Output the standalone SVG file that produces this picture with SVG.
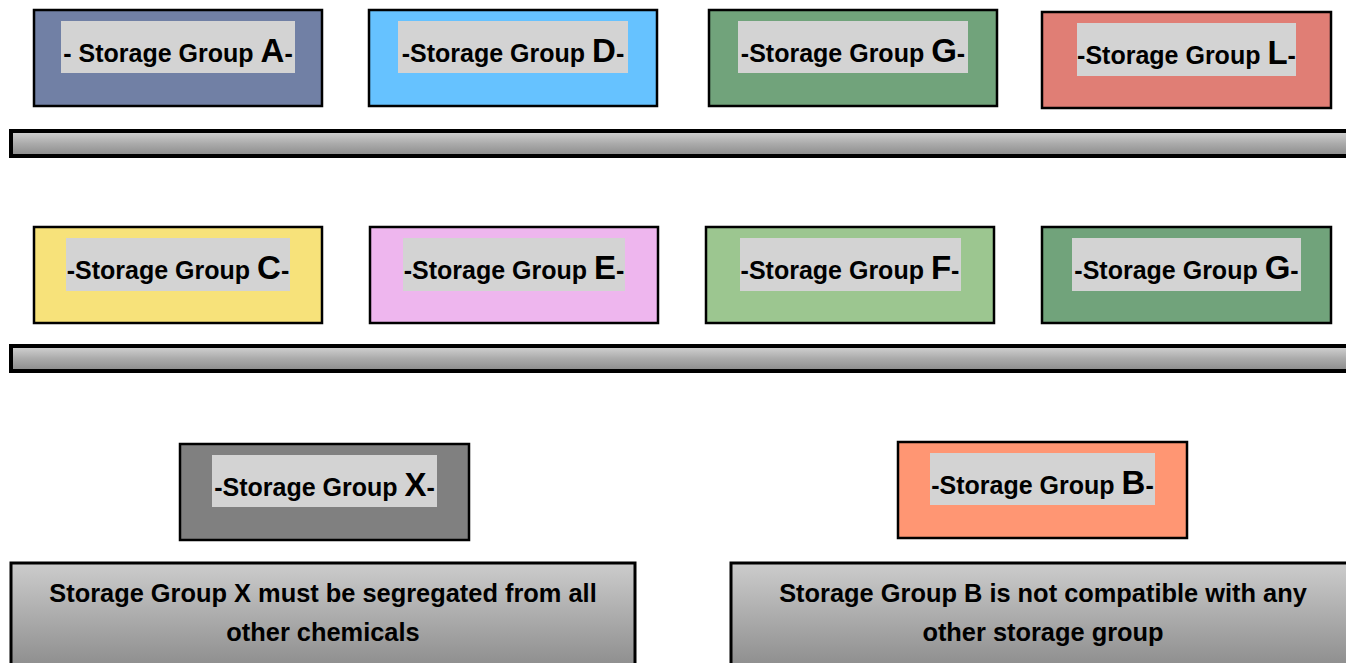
<svg xmlns="http://www.w3.org/2000/svg" width="1346" height="663" viewBox="0 0 1346 663">
<defs>
<linearGradient id="shelfGrad" x1="0" y1="0" x2="0" y2="1">
<stop offset="0" stop-color="#d4d4d4"/>
<stop offset="0.5" stop-color="#ababab"/>
<stop offset="1" stop-color="#8a8a8a"/>
</linearGradient>
<linearGradient id="noteGrad" x1="0" y1="0" x2="0" y2="1">
<stop offset="0" stop-color="#cccccc"/>
<stop offset="1" stop-color="#8a8a8a"/>
</linearGradient>
<style>
.box{stroke:#000;stroke-width:2.5}
.lbl{fill:#d3d3d3}
.t{font-family:"Liberation Sans",Arial,sans-serif;font-weight:bold;font-size:25px;fill:#000;text-anchor:middle}
.big{font-size:33px}
.nt{font-size:25.4px}
.shelf{fill:url(#shelfGrad);stroke:#000;stroke-width:4}
.note{fill:url(#noteGrad);stroke:#000;stroke-width:3}
</style>
</defs>
<g id="shelves">
<rect class="shelf" x="11" y="131" width="1345" height="25"/>
<rect class="shelf" x="11" y="346" width="1345" height="25"/>
</g>
<g id="nodeA">
<rect class="box" x="34" y="10" width="288" height="96" fill="#7180a5"/>
<rect class="lbl" x="61" y="21" width="234" height="52"/>
<text class="t" x="178" y="62">- Storage Group <tspan class="big">A</tspan>-</text>
</g>
<g id="nodeD">
<rect class="box" x="369" y="10" width="288" height="96" fill="#66c2ff"/>
<rect class="lbl" x="398" y="21" width="230" height="52"/>
<text class="t" x="513" y="62">-Storage Group <tspan class="big">D</tspan>-</text>
</g>
<g id="nodeG1">
<rect class="box" x="709" y="10" width="288" height="96" fill="#71a37b"/>
<rect class="lbl" x="738" y="21" width="230" height="52"/>
<text class="t" x="853" y="62">-Storage Group <tspan class="big">G</tspan>-</text>
</g>
<g id="nodeL">
<rect class="box" x="1042" y="12" width="289" height="96" fill="#e07e75"/>
<rect class="lbl" x="1077" y="23" width="219" height="53"/>
<text class="t" x="1186.5" y="64">-Storage Group <tspan class="big">L</tspan>-</text>
</g>
<g id="nodeC">
<rect class="box" x="34" y="227" width="288" height="96" fill="#f7e27a"/>
<rect class="lbl" x="66" y="238" width="224" height="53"/>
<text class="t" x="178" y="279">-Storage Group <tspan class="big">C</tspan>-</text>
</g>
<g id="nodeE">
<rect class="box" x="370" y="227" width="288" height="96" fill="#eeb6ee"/>
<rect class="lbl" x="403" y="238" width="222" height="53"/>
<text class="t" x="514" y="279">-Storage Group <tspan class="big">E</tspan>-</text>
</g>
<g id="nodeF">
<rect class="box" x="706" y="227" width="288" height="96" fill="#9cc690"/>
<rect class="lbl" x="740" y="238" width="221" height="53"/>
<text class="t" x="850" y="279">-Storage Group <tspan class="big">F</tspan>-</text>
</g>
<g id="nodeG2">
<rect class="box" x="1042" y="227" width="289" height="96" fill="#71a37b"/>
<rect class="lbl" x="1072" y="238" width="229" height="53"/>
<text class="t" x="1186.5" y="279">-Storage Group <tspan class="big">G</tspan>-</text>
</g>
<g id="nodeX">
<rect class="box" x="180" y="444" width="289" height="96" fill="#808080"/>
<rect class="lbl" x="212" y="455" width="225" height="52"/>
<text class="t" x="324.5" y="496">-Storage Group <tspan class="big">X</tspan>-</text>
</g>
<g id="nodeB">
<rect class="box" x="898" y="442" width="289" height="96" fill="#ff9673"/>
<rect class="lbl" x="930" y="453" width="225" height="52"/>
<text class="t" x="1042.5" y="494">-Storage Group <tspan class="big">B</tspan>-</text>
</g>
<g id="noteX">
<rect class="note" x="11" y="563" width="624" height="110"/>
<text class="t nt" x="323" y="602">Storage Group X must be segregated from all</text>
<text class="t nt" x="323" y="641">other chemicals</text>
</g>
<g id="noteB">
<rect class="note" x="731" y="563" width="630" height="110"/>
<text class="t nt" x="1043" y="602">Storage Group B is not compatible with any</text>
<text class="t nt" x="1043" y="641">other storage group</text>
</g>
<g id="connectors"></g>
</svg>
